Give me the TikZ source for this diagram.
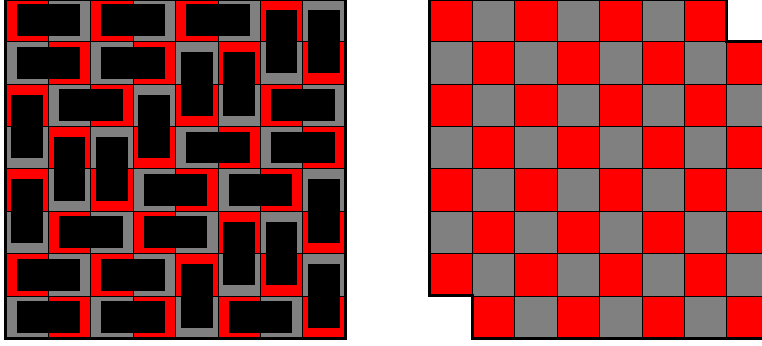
\documentclass[tikz,border=0pt]{standalone}
\usepackage{tikz}
\definecolor{boardred}{RGB}{255,0,0}
\definecolor{boardgray}{RGB}{128,128,128}

\begin{document}
\begin{tikzpicture}[
    square/.style={draw=black, line width=0.6pt},
    rim/.style={draw=black, line width=2pt, line join=miter},
    domino/.style={fill=black}]
  \useasboundingbox (-0.14,-0.16) rectangle (17.83,7.98);
  % left board: full 8x8 board, red in the top left corner
  \foreach \i in {0,...,7}
    \foreach \j in {0,...,7} {
      \pgfmathtruncatemacro\odd{mod(\i+\j,2)}
      \ifnum\odd=1 \def\shade{boardred}\else\def\shade{boardgray}\fi
      \filldraw[square, fill=\shade] (\i,\j) rectangle ++(1,1);
    }
  \draw[rim] (0,0) rectangle (8,8);
  % the 32 dominoes: x/y/width/height of each covered pair
  \foreach \x/\y/\w/\h in {0/7/2/1, 2/7/2/1, 4/7/2/1, 6/6/1/2, 7/6/1/2,
      0/6/2/1, 2/6/2/1, 4/5/1/2, 5/5/1/2,
      0/4/1/2, 1/5/2/1, 3/4/1/2, 6/5/2/1,
      1/3/1/2, 2/3/1/2, 4/4/2/1, 6/4/2/1,
      0/2/1/2, 3/3/2/1, 5/3/2/1, 7/2/1/2,
      1/2/2/1, 3/2/2/1, 5/1/1/2, 6/1/1/2,
      0/1/2/1, 2/1/2/1, 4/0/1/2, 7/0/1/2,
      0/0/2/1, 2/0/2/1, 5/0/2/1}
    \fill[domino] (\x+0.125*\w,\y+0.125*\h) rectangle ++(0.75*\w,0.75*\h);
  % right board: two opposite corners cut off
  \foreach \j in {0,...,7} {
    \pgfmathtruncatemacro\first{\j==0 ? 1 : 0}
    \pgfmathtruncatemacro\last{\j==7 ? 6 : 7}
    \foreach \i in {\first,...,\last} {
      \pgfmathtruncatemacro\odd{mod(\i+\j,2)}
      \ifnum\odd=1 \def\shade{boardred}\else\def\shade{boardgray}\fi
      \filldraw[square, fill=\shade] (10+\i,\j) rectangle ++(1,1);
    }
  }
  \draw[rim] (11,0) -- (18,0) -- (18,7) -- (17,7) -- (17,8) -- (10,8)
    -- (10,1) -- (11,1) -- cycle;
\end{tikzpicture}
\end{document}
